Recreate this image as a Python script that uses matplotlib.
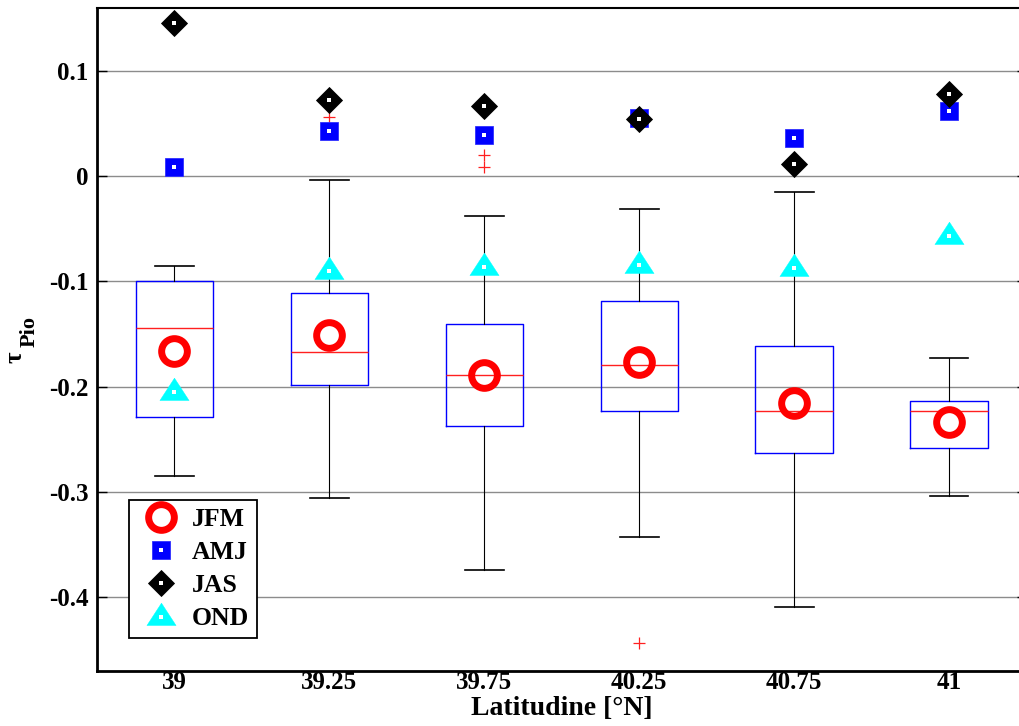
import matplotlib
matplotlib.use("Agg")
import matplotlib.pyplot as plt

# Latitude bins and box statistics of tau (Pio)
labels = ['39', '39.25', '39.75', '40.25', '40.75', '41']
q1 = [-0.229, -0.198, -0.237, -0.2235, -0.263, -0.2587]
med = [-0.144, -0.1666, -0.189, -0.179, -0.2235, -0.2235]
q3 = [-0.0997, -0.111, -0.1403, -0.119, -0.161, -0.2134]
whislo = [-0.285, -0.306, -0.374, -0.3425, -0.4093, -0.304]
whishi = [-0.085, -0.0035, -0.0377, -0.0307, -0.0149, -0.1723]
fliers = [[], [0.056], [0.0202, 0.0085], [-0.444], [], []]

# Seasonal values
jfm = [-0.166, -0.151, -0.1887, -0.1767, -0.2156, -0.234]
amj = [0.009, 0.0433, 0.0395, 0.055, 0.0364, 0.0623]
jas = [0.146, 0.0725, 0.0668, 0.0547, 0.0114, 0.0781]
ond = [-0.2055, -0.0896, -0.0858, -0.0842, -0.0868, -0.057]

FONT = 'Liberation Serif'
plt.rcParams['font.family'] = [FONT, 'DejaVu Serif']
plt.rcParams['font.weight'] = 'bold'

fig = plt.figure(figsize=(10.19, 7.26), dpi=100)
ax = fig.add_axes([0.0952, 0.0762, 0.9122, 0.9128])

positions = list(range(1, len(labels) + 1))
stats = []
for i in range(len(labels)):
    stats.append(dict(med=med[i], q1=q1[i], q3=q3[i], whislo=whislo[i],
                      whishi=whishi[i], fliers=fliers[i], label=labels[i]))

ax.bxp(stats, positions=positions, widths=0.5, showfliers=True,
       boxprops=dict(color='#0000ff', linewidth=1.0),
       medianprops=dict(color='#ff2020', linewidth=1.0),
       whiskerprops=dict(color='black', linewidth=0.8),
       capprops=dict(color='black', linewidth=1.2),
       flierprops=dict(marker='+', markeredgecolor='#ff2020', markersize=8,
                       markeredgewidth=0.9, linestyle='none'))

# MATLAB-like triangle, anchored lower than its bounding-box centre
tri = [(0, 0.986), (-1, -0.55), (1, -0.55), (0, 0.986)]

h1, = ax.plot(positions, jfm, linestyle='none', marker='o', markersize=18.5,
              markerfacecolor='none', markeredgecolor='#ff0000',
              markeredgewidth=5.0, zorder=5, label='JFM')
h2, = ax.plot(positions, amj, linestyle='none', marker='s', markersize=13.5,
              markerfacecolor='#0000ff', markeredgecolor='#3030ff',
              markeredgewidth=0.6, zorder=6, label='AMJ')
h3, = ax.plot(positions, jas, linestyle='none', marker='D', markersize=13.5,
              markerfacecolor='black', markeredgecolor='black',
              markeredgewidth=0.6, zorder=7, label='JAS')
h4, = ax.plot(positions, ond, linestyle='none', marker=tri, markersize=21,
              markerfacecolor='#00ffff', markeredgecolor='#00ffff',
              markeredgewidth=0.3, zorder=8, label='OND')
# small white centre dots of the filled markers
dots = []
for series, z in ((amj, 6.5), (jas, 7.5), (ond, 8.5)):
    d, = ax.plot(positions, series, linestyle='none', marker='s',
                 markersize=2.6, markerfacecolor='white',
                 markeredgewidth=0, zorder=z)
    dots.append(d)

ax.set_xlim(0.5, 6.5)
ax.set_ylim(-0.47, 0.16)
ax.set_xticks(positions)
ax.set_xticklabels(labels)
ax.set_yticks([-0.4, -0.3, -0.2, -0.1, 0.0, 0.1])
ax.set_yticklabels(['-0.4', '-0.3', '-0.2', '-0.1', '0', '0.1'])

ax.yaxis.grid(True, color='#8c8c8c', linewidth=1.0)
ax.set_axisbelow(True)
ax.tick_params(axis='x', length=0, pad=0, labelsize=18)
ax.tick_params(axis='y', direction='in', length=7, width=1, labelsize=18,
               pad=6, right=True)
for lab in ax.get_xticklabels() + ax.get_yticklabels():
    lab.set_fontweight('bold')

ax.spines['left'].set_linewidth(2.0)
ax.spines['bottom'].set_linewidth(2.0)
ax.spines['top'].set_linewidth(1.5)
ax.spines['right'].set_linewidth(1.5)

ax.set_xlabel('Latitudine [°N]', fontsize=20, fontweight='bold')
ax.xaxis.set_label_coords(0.5, -0.038)

# y label: tau with subscript "Pio"
fig.text(15 / 1019, 1 - 357 / 726, 'τ', rotation=90, fontsize=18,
         fontweight='bold', ha='center', va='center')
fig.text(30 / 1019, 1 - 332 / 726, 'Pio', rotation=90, fontsize=16,
         fontweight='bold', ha='center', va='center')

leg = ax.legend(handles=[h1, (h2, dots[0]), (h3, dots[1]), (h4, dots[2])],
                labels=['JFM', 'AMJ', 'JAS', 'OND'],
                loc='lower left',
                bbox_to_anchor=(0.0344, 0.049), borderaxespad=0,
                fancybox=False, framealpha=1, edgecolor='black',
                prop=dict(family=FONT, weight='bold', size=18.5),
                handletextpad=0.25, labelspacing=0.4, borderpad=0.3,
                handlelength=1.9)
leg.get_frame().set_linewidth(1.3)

fig.savefig('out.png', dpi=100)
